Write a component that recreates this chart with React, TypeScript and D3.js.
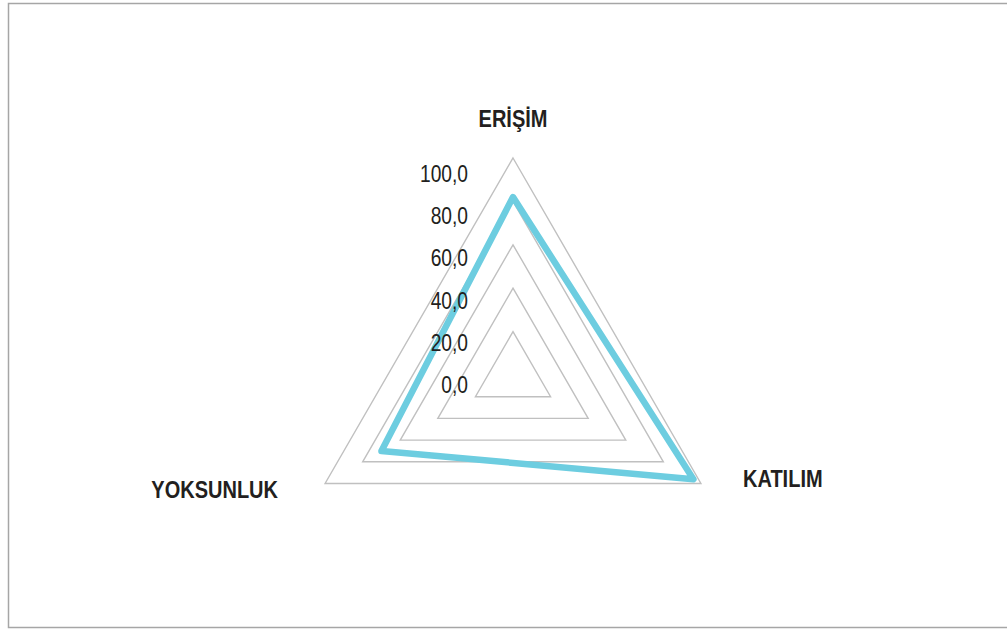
import React, { useEffect, useRef } from 'react';
import * as d3 from 'd3';

// axes of the radar, clockwise from top
const categories = ['ERİŞİM', 'KATILIM', 'YOKSUNLUK'];
const values = [82, 96, 70];
const gridLevels = [20, 40, 60, 80, 100];
const tickValues = [0, 20, 40, 60, 80, 100];

export default () => {
    const width = 1007;
    const height = 629;
    const svgRef = useRef<SVGSVGElement>(null);

    useEffect(() => {
        const svg = d3.select(svgRef.current);
        svg.selectAll('*').remove();

        // chart area frame (right edge runs off the page)
        svg.append('path')
            .attr('d', 'M1012,3.5H8.5V627.5H1012')
            .attr('fill', 'none')
            .attr('stroke', '#a6a6a6')
            .attr('stroke-width', 1.5);

        const cx = 513;
        const cy = 375;
        const r = d3.scaleLinear().domain([0, 100]).range([0, 217]);
        const angle = d3.scalePoint<string>()
            .domain(categories)
            .range([0, (2 * Math.PI * 2) / 3]);

        const g = svg.append('g').attr('transform', `translate(${cx},${cy})`);

        const radial = d3.lineRadial<[string, number]>()
            .angle(d => angle(d[0])!)
            .radius(d => r(d[1]))
            .curve(d3.curveLinearClosed);

        // grid triangles
        g.selectAll('path.grid')
            .data(gridLevels)
            .join('path')
            .attr('class', 'grid')
            .attr('d', lv => radial(categories.map(c => [c, lv] as [string, number])))
            .attr('fill', 'none')
            .attr('stroke', '#c0c0c0')
            .attr('stroke-width', 1.4);

        // data series
        g.append('path')
            .attr('d', radial(categories.map((c, i) => [c, values[i]] as [string, number])))
            .attr('fill', 'none')
            .attr('stroke', '#6dcde0')
            .attr('stroke-width', 6.5)
            .attr('stroke-linejoin', 'round');

        // value axis labels (condensed look)
        const labelY = d3.scaleLinear().domain([0, 100]).range([393, 182]);
        svg.selectAll('text.tick')
            .data(tickValues)
            .join('text')
            .attr('class', 'tick')
            .attr('transform', v => `translate(468,${labelY(v)}) scale(0.8,1)`)
            .attr('text-anchor', 'end')
            .attr('font-family', '"Liberation Sans", Arial, sans-serif')
            .attr('font-size', 24)
            .attr('fill', '#231f20')
            .text(v => d3.format('.1f')(v).replace('.', ','));

        // category labels
        const catPos = [
            { x: 513, y: 127, anchor: 'middle' },
            { x: 743, y: 487, anchor: 'start' },
            { x: 278, y: 498, anchor: 'end' },
        ];
        svg.selectAll('text.cat')
            .data(categories)
            .join('text')
            .attr('class', 'cat')
            .attr('transform', (_, i) => `translate(${catPos[i].x},${catPos[i].y}) scale(0.87,1)`)
            .attr('text-anchor', (_, i) => catPos[i].anchor)
            .attr('font-family', '"Liberation Sans", Arial, sans-serif')
            .attr('font-weight', 'bold')
            .attr('font-size', 23)
            .attr('fill', '#231f20')
            .text(d => d);
    }, []);

    return <svg ref={svgRef} width={width} height={height}
        style={{ position: 'absolute', left: 0, top: 0, background: '#fff' }}></svg>;
};
